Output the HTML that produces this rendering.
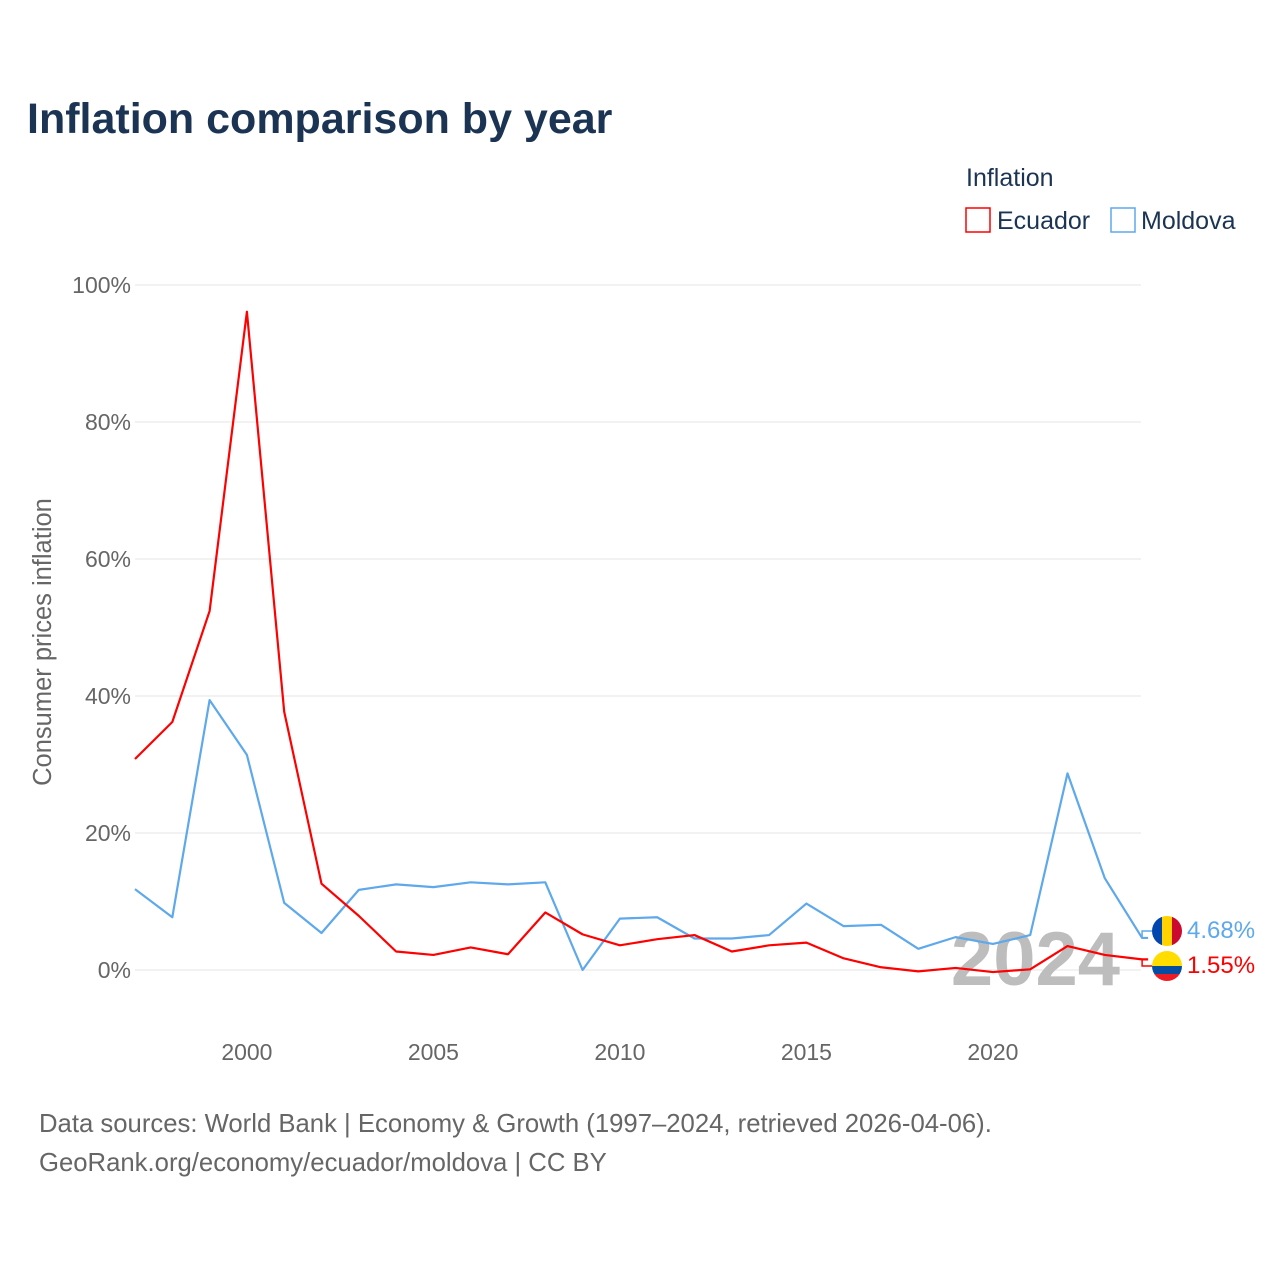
<!DOCTYPE html>
<html><head><meta charset="utf-8"><style>
body{margin:0;background:#fff;width:1280px;height:1280px;overflow:hidden;font-family:"Liberation Sans",sans-serif}
</style></head><body>
<svg width="1280" height="1280" xmlns="http://www.w3.org/2000/svg" font-family="Liberation Sans, sans-serif">
<text x="27" y="133" font-size="43" font-weight="bold" fill="#1b3454">Inflation comparison by year</text>
<text x="966" y="186" font-size="25" fill="#1b3454">Inflation</text>
<g><rect x="966" y="208" width="24" height="24" fill="none" stroke="#ff0000" stroke-width="1.5"/><text x="997" y="229" font-size="25" fill="#1b3454">Ecuador</text></g>
<g><rect x="1111" y="208" width="24" height="24" fill="none" stroke="#5ea8ec" stroke-width="1.5"/><text x="1141" y="229" font-size="25" fill="#1b3454">Moldova</text></g>
<g id="grid"></g>
<g id="yticks"></g>
<g id="xticks"></g>
<text transform="translate(51,642) rotate(-90)" text-anchor="middle" font-size="25.5" fill="#666">Consumer prices inflation</text>
<text x="1120" y="985" text-anchor="end" font-size="76" font-weight="bold" fill="#bdbdbd">2024</text>
<g id="series"></g>
<g><clipPath id="cm"><circle cx="1167" cy="931" r="15"/></clipPath><g clip-path="url(#cm)"><rect x="1152" y="916" width="10" height="30" fill="#0046ae"/><rect x="1162" y="916" width="10" height="30" fill="#ffd200"/><rect x="1172" y="916" width="10" height="30" fill="#cc092f"/></g></g>
<g><clipPath id="ce"><circle cx="1167" cy="966" r="15"/></clipPath><g clip-path="url(#ce)"><rect x="1152" y="951" width="30" height="15" fill="#ffdd00"/><rect x="1152" y="966" width="30" height="8" fill="#034ea2"/><rect x="1152" y="974" width="30" height="8" fill="#ed1c24"/></g></g>
<text x="1187" y="938" font-size="24" fill="#5ea8ec">4.68%</text>
<text x="1187" y="973" font-size="24" fill="#ff0000">1.55%</text>
<text x="39" y="1132" font-size="25.7" fill="#666">Data sources: World Bank | Economy &amp; Growth (1997–2024, retrieved 2026-04-06).</text>
<text x="39" y="1171" font-size="25.7" fill="#666">GeoRank.org/economy/ecuador/moldova | CC BY</text>
</svg>
<script>
const years=[1997,1998,1999,2000,2001,2002,2003,2004,2005,2006,2007,2008,2009,2010,2011,2012,2013,2014,2015,2016,2017,2018,2019,2020,2021,2022,2023,2024];
const ecuador=[30.8,36.2,52.4,96.1,37.7,12.6,7.9,2.7,2.2,3.3,2.3,8.4,5.2,3.6,4.5,5.1,2.7,3.6,4.0,1.7,0.4,-0.2,0.3,-0.3,0.1,3.5,2.2,1.55];
const moldova=[11.8,7.7,39.4,31.4,9.8,5.4,11.7,12.5,12.1,12.8,12.5,12.8,0.0,7.5,7.7,4.6,4.6,5.1,9.7,6.4,6.6,3.1,4.8,3.8,5.1,28.7,13.4,4.68];
const yTicks=[0,20,40,60,80,100];
const xTicks=[2000,2005,2010,2015,2020];
const NS="http://www.w3.org/2000/svg";
const X=y=>135+(y-1997)*(993-247)/20;
const Y=v=>970-v*6.85;
function mk(tag,attrs,parent){const e=document.createElementNS(NS,tag);for(const k in attrs)e.setAttribute(k,attrs[k]);parent.appendChild(e);return e;}
const grid=document.getElementById('grid'),yt=document.getElementById('yticks'),xt=document.getElementById('xticks'),ser=document.getElementById('series');
yTicks.forEach(t=>{const l=mk('line',{x1:135,x2:1141,y1:Y(t),y2:Y(t),stroke:'#e6e6e6','stroke-width':1},grid);


const tx=mk('text',{x:131,y:Y(t)+8,'text-anchor':'end','font-size':23,fill:'#666'},yt);tx.textContent=t+'%';

});
xTicks.forEach(t=>{const tx=mk('text',{x:X(t),y:1060,'text-anchor':'middle','font-size':23,fill:'#666'},xt);tx.textContent=t;

});
function line(vals,color,name,endY){const pts=vals.map((v,i)=>X(years[i])+','+Y(v));
const last=X(years[years.length-1]);pts.push((last+6)+','+Y(vals[vals.length-1]));
const p=mk('polyline',{points:pts.join(' '),fill:'none',stroke:color,'stroke-width':2.2,'stroke-linejoin':'round'},ser);


const c=mk('polyline',{points:[(last)+','+Y(vals[vals.length-1]),(last)+','+endY,(last+10)+','+endY].join(' '),fill:'none',stroke:color,'stroke-width':1.5},ser);

}
line(moldova,'#5ea8ec','moldova-line',931);
line(ecuador,'#ff0000','ecuador-line',966);
</script>
</body></html>
